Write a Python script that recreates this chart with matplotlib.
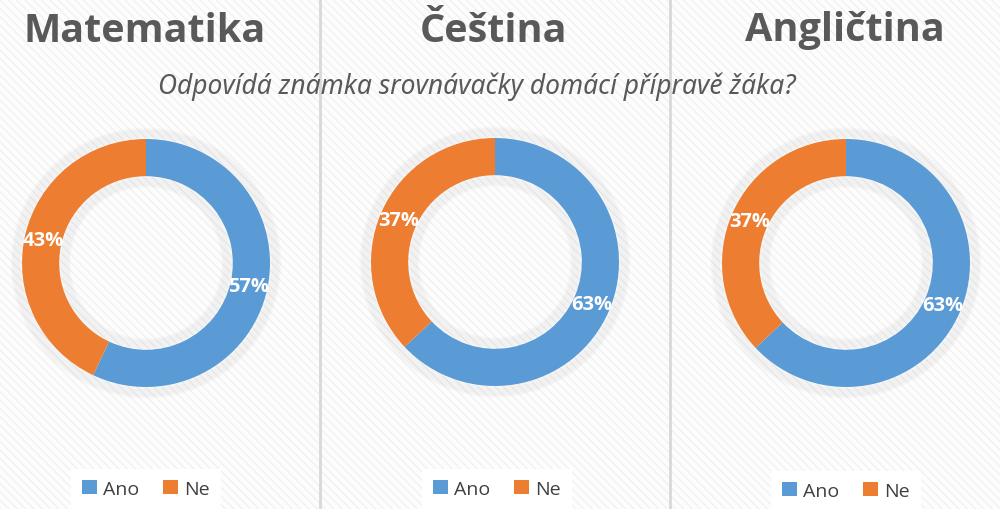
import numpy as np
import matplotlib
matplotlib.use('Agg')
import matplotlib.pyplot as plt
from matplotlib.patches import Rectangle, Circle, Patch

plt.rcParams['font.family'] = ['Open Sans', 'DejaVu Sans']
plt.rcParams['hatch.linewidth'] = 0.8

subjects = ['Matematika', 'Čeština', 'Angličtina']
answers = ['Ano', 'Ne']
ano = [57, 63, 63]
ne = [43, 37, 37]
question = 'Odpovídá známka srovnávačky domácí přípravě žáka?'
colors = ['#5B9BD5', '#ED7D31']

W, H = 1000, 510
fig = plt.figure(figsize=(10, 5.1), dpi=100)

# background with fine diagonal stripes
bg = fig.add_axes([0, 0, 1, 1])
bg.set_xlim(0, W)
bg.set_ylim(H, 0)
bg.axis('off')
bg.add_patch(Rectangle((0, 0), W, H, facecolor='#FDFDFD', edgecolor='#EFEFEF',
                       hatch='\\\\\\\\', linewidth=0, zorder=0))

# separators between panels
for xs in [320, 670]:
    bg.plot([xs, xs], [0, H], color='#D9D9D9', lw=2, zorder=1)

centers = [(146, 264), (495, 263), (846, 264)]
title_x = [145, 493, 845]
legend_pos = [(146, 490), (497, 490), (846, 492)]
R = 124

for i, subj in enumerate(subjects):
    cx, cy = centers[i]
    bg.text(title_x[i], 31, subj, ha='center', va='center', fontsize=28.5,
            fontweight='bold', color='#595959', zorder=3)

    ax = fig.add_axes([(cx - R) / W, (H - cy - R) / H, 2 * R / W, 2 * R / H])
    ax.set_xlim(-1, 1)
    ax.set_ylim(-1, 1)
    ax.axis('off')
    # soft shadow around the ring
    for k in range(8):
        ax.add_patch(Circle((0, 0), 1.0 + 0.01 * (k + 1), facecolor='none',
                            edgecolor='#000000', alpha=0.014, lw=2.5, zorder=0,
                            clip_on=False))
        ax.add_patch(Circle((0, 0), 0.70 - 0.01 * (k + 1), facecolor='none',
                            edgecolor='#000000', alpha=0.014, lw=2.5, zorder=0,
                            clip_on=False))
    wedges, texts, autotexts = ax.pie(
        [ano[i], ne[i]], colors=colors, startangle=90, counterclock=False,
        radius=1, wedgeprops=dict(width=0.30, edgecolor='none', clip_on=False),
        autopct='%d%%', pctdistance=0.85,
        textprops=dict(color='white', fontsize=14.5, fontweight='bold'))
    ax.set_xlim(-1, 1)
    ax.set_ylim(-1, 1)

    lx, ly = legend_pos[i]
    handles = [Patch(facecolor=c, edgecolor='none') for c in colors]
    leg = fig.legend(handles, answers, loc='center', ncol=2,
                     bbox_to_anchor=(lx / W, (H - ly) / H),
                     frameon=True, fancybox=False, fontsize=14,
                     handlelength=0.75, handleheight=0.75, handletextpad=0.35,
                     columnspacing=1.2, borderpad=0.55)
    leg.get_frame().set_facecolor('white')
    leg.get_frame().set_edgecolor('none')
    leg.get_frame().set_alpha(1)
    for t in leg.get_texts():
        t.set_color('#404040')

bg.text(477, 87, question, ha='center', va='center', fontsize=19,
        style='italic', color='#595959', family=['Noto Sans', 'DejaVu Sans'],
        zorder=3)

fig.savefig('out.png', dpi=100)
